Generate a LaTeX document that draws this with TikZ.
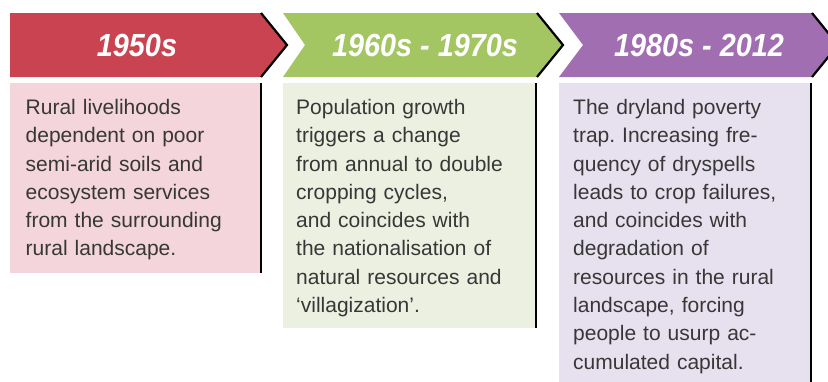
\documentclass[tikz,border=0pt]{standalone}
\usepackage{fontspec}
\setmainfont{Liberation Sans}
\newfontfamily\headfont[FakeStretch=0.9]{Liberation Sans}
\usepackage{tikz}
\frenchspacing

\definecolor{redbar}{RGB}{201,68,80}
\definecolor{greenbar}{RGB}{163,197,98}
\definecolor{purplebar}{RGB}{162,110,178}
\definecolor{redbox}{RGB}{243,213,219}
\definecolor{greenbox}{RGB}{236,240,225}
\definecolor{purplebox}{RGB}{231,225,239}
\definecolor{textgray}{RGB}{55,55,55}

\begin{document}
\begin{tikzpicture}[x=1pt,y=-1pt,
  edge/.style={line width=2.2pt,black},
  head/.style={text=white,inner sep=0pt,
    font=\headfont\bfseries\itshape\fontsize{32}{32}\selectfont},
  body/.style={anchor=north west,inner sep=0pt,text width=240pt,
    align=left,text=textgray,font=\fontsize{21}{28.3}\selectfont}]
\useasboundingbox (0,0) rectangle (828,381);
\clip (0,0) rectangle (828,381);

% header bars
\fill[redbar] (10,13) -- (261,13) -- (287,45) -- (261,77) -- (10,77) -- cycle;
\draw[edge] (261,13) -- (287,45) -- (261,77);
\fill[greenbar] (283,13) -- (537,13) -- (563,45) -- (537,77) -- (283,77) -- (305,45) -- cycle;
\draw[edge] (537,13) -- (563,45) -- (537,77);
\fill[purplebar] (559,13) -- (812,13) -- (838,45) -- (812,77) -- (559,77) -- (583,45) -- cycle;
\draw[edge] (812,13) -- (838,45) -- (812,77);

\node[head] (h1) at (137,45) {1950s};
\node[head] (h2) at (425,45) {1960s - 1970s};
\node[head] (h3) at (699,45) {1980s - 2012};

% text boxes
\fill[redbox] (10,83) rectangle (262,273);
\draw[line width=2pt] (261,83) -- (261,273);
\fill[greenbox] (283,83) rectangle (537,328);
\draw[line width=2pt] (536,83) -- (536,328);
\fill[purplebox] (559,83) rectangle (812,385);
\draw[line width=2pt] (811,83) -- (811,385);

\node[body] (t1) at (25.5,99) {Rural livelihoods\\
  dependent on poor\\
  semi-arid soils and\\
  ecosystem services\\
  from the surrounding\\
  rural landscape.};
\node[body] (t2) at (296,99) {Population growth\\
  triggers a change\\
  from annual to double\\
  cropping cycles,\\
  and coincides with\\
  the nationalisation of\\
  natural resources and\\
  `villagization'.};
\node[body] (t3) at (573,99) {The dryland poverty\\
  trap. Increasing fre-\\
  quency of dryspells\\
  leads to crop failures,\\
  and coincides with\\
  degradation of\\
  resources in the rural\\
  landscape, forcing\\
  people to usurp ac-\\
  cumulated capital.};
\end{tikzpicture}
\end{document}
